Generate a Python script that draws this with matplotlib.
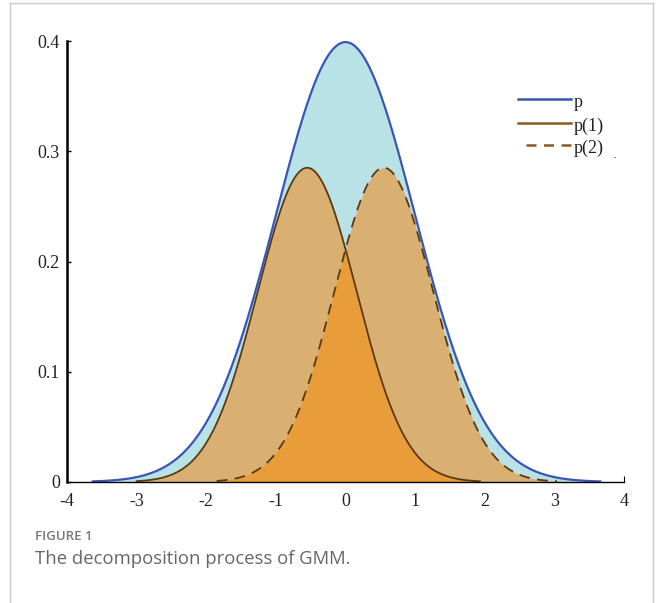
import numpy as np
import matplotlib
matplotlib.use("Agg")
import matplotlib.pyplot as plt
from matplotlib.lines import Line2D

plt.rcParams["axes.unicode_minus"] = False

# ---- data ----
series_names = ["p", "p(1)", "p(2)"]
# Gaussian parameters: mean, std, amplitude(peak height), drawn x-range
p_mean, p_std, p_peak, p_range = 0.0, 1.0, 0.399, (-3.63, 3.66)
c1_mean, c1_std, c1_peak, c1_range = -0.55, 0.71, 0.285, (-3.0, 1.93)
c2_mean, c2_std, c2_peak, c2_range = 0.55, 0.71, 0.285, (-1.85, 3.04)
x_ticks = [-4, -3, -2, -1, 0, 1, 2, 3, 4]
y_ticks = [0, 0.1, 0.2, 0.3, 0.4]
y_tick_labels = ["0", "0.1", "0.2", "0.3", "0.4"]


def gauss(x, m, s, a):
    return a * np.exp(-(x - m) ** 2 / (2 * s ** 2))


W, H = 656, 603
fig = plt.figure(figsize=(W / 100, H / 100), dpi=100)
ax = fig.add_axes([67 / W, (H - 482) / H, (624 - 67) / W, (482 - 41) / H])
ax.set_axisbelow(True)

xp = np.linspace(*p_range, 600)
x1 = np.linspace(*c1_range, 600)
x2 = np.linspace(*c2_range, 600)
yp = gauss(xp, p_mean, p_std, p_peak)
y1 = gauss(x1, c1_mean, c1_std, c1_peak)
y2 = gauss(x2, c2_mean, c2_std, c2_peak)

xo = np.linspace(c2_range[0], c1_range[1], 600)
yo = np.minimum(gauss(xo, c1_mean, c1_std, c1_peak), gauss(xo, c2_mean, c2_std, c2_peak))

cyan = "#b8e2e6"
tan = "#d9af72"
orange = "#e89c3a"
blue = "#3b55b3"
brown = "#5a3a12"

ax.fill_between(xp, 0, yp, color=cyan, lw=0, zorder=1)
ax.fill_between(x1, 0, y1, color=tan, lw=0, zorder=2)
ax.fill_between(x2, 0, y2, color=tan, lw=0, zorder=2)
ax.fill_between(xo, 0, yo, color=orange, lw=0, zorder=3)

ax.plot(xp, yp, color=blue, lw=1.6, zorder=5)
ax.plot(x1, y1, color=brown, lw=1.3, zorder=4)
ax.plot(x2, y2, color=brown, lw=1.3, ls=(0, (6, 4)), zorder=4)

ax.set_xlim(-4, 4)
ax.set_ylim(0, 0.4)
ax.set_xticks(x_ticks)
ax.set_yticks(y_ticks)
ax.set_yticklabels(y_tick_labels)
for s in ["top", "right"]:
    ax.spines[s].set_visible(False)
ax.spines["left"].set_linewidth(1.8)
ax.spines["bottom"].set_linewidth(1.0)
ax.spines["left"].set_zorder(6)
ax.spines["bottom"].set_zorder(6)
ax.tick_params(axis="y", direction="in", length=3, width=1, pad=5)
ax.tick_params(axis="x", direction="in", length=4, width=0.8, pad=8)
for lab in ax.get_xticklabels() + ax.get_yticklabels():
    lab.set_fontfamily("Liberation Serif")
    lab.set_fontsize(13)
    lab.set_color("#222222")

# legend drawn manually in axes data coordinates
leg_x0, leg_x1 = 2.48, 3.24
leg_ys = [0.347, 0.326, 0.306]
styles = [dict(color=blue, lw=1.8, ls="-"),
          dict(color="#8b5a1e", lw=1.8, ls="-"),
          dict(color="#8b5a1e", lw=1.8, ls=(0, (4, 3)))]
for i, (name, st) in enumerate(zip(series_names, styles)):
    xs0 = leg_x0 + (0.11 if i == 2 else 0)
    ax.plot([xs0, leg_x1], [leg_ys[i], leg_ys[i]], clip_on=False, **st)
    ax.text(leg_x1 + 0.04, leg_ys[i] - 0.003, name, fontfamily="Liberation Serif",
            fontsize=13, va="center", ha="left", color="#222222")
ax.text(3.86, 0.297, ".", fontsize=9, color="#444444", ha="center", va="center")

# frame
frame_c = "#c8c8c8"
fig.add_artist(Line2D([10 / W, 10 / W], [0, 1 - 3 / H], color=frame_c, lw=1, transform=fig.transFigure))
fig.add_artist(Line2D([653 / W, 653 / W], [0, 1 - 3 / H], color=frame_c, lw=1, transform=fig.transFigure))
fig.add_artist(Line2D([10 / W, 653 / W], [1 - 3 / H, 1 - 3 / H], color=frame_c, lw=1, transform=fig.transFigure))

fig.text(35 / W, 1 - 537 / H, "FIGURE 1", fontfamily="Open Sans", fontsize=9.5,
         fontweight="semibold", color="#777777", va="center", ha="left")
fig.text(35 / W, 1 - 559 / H, "The decomposition process of GMM.", fontfamily="Open Sans",
         fontsize=13.3, color="#666666", va="center", ha="left")

fig.savefig("out.png", dpi=100)
